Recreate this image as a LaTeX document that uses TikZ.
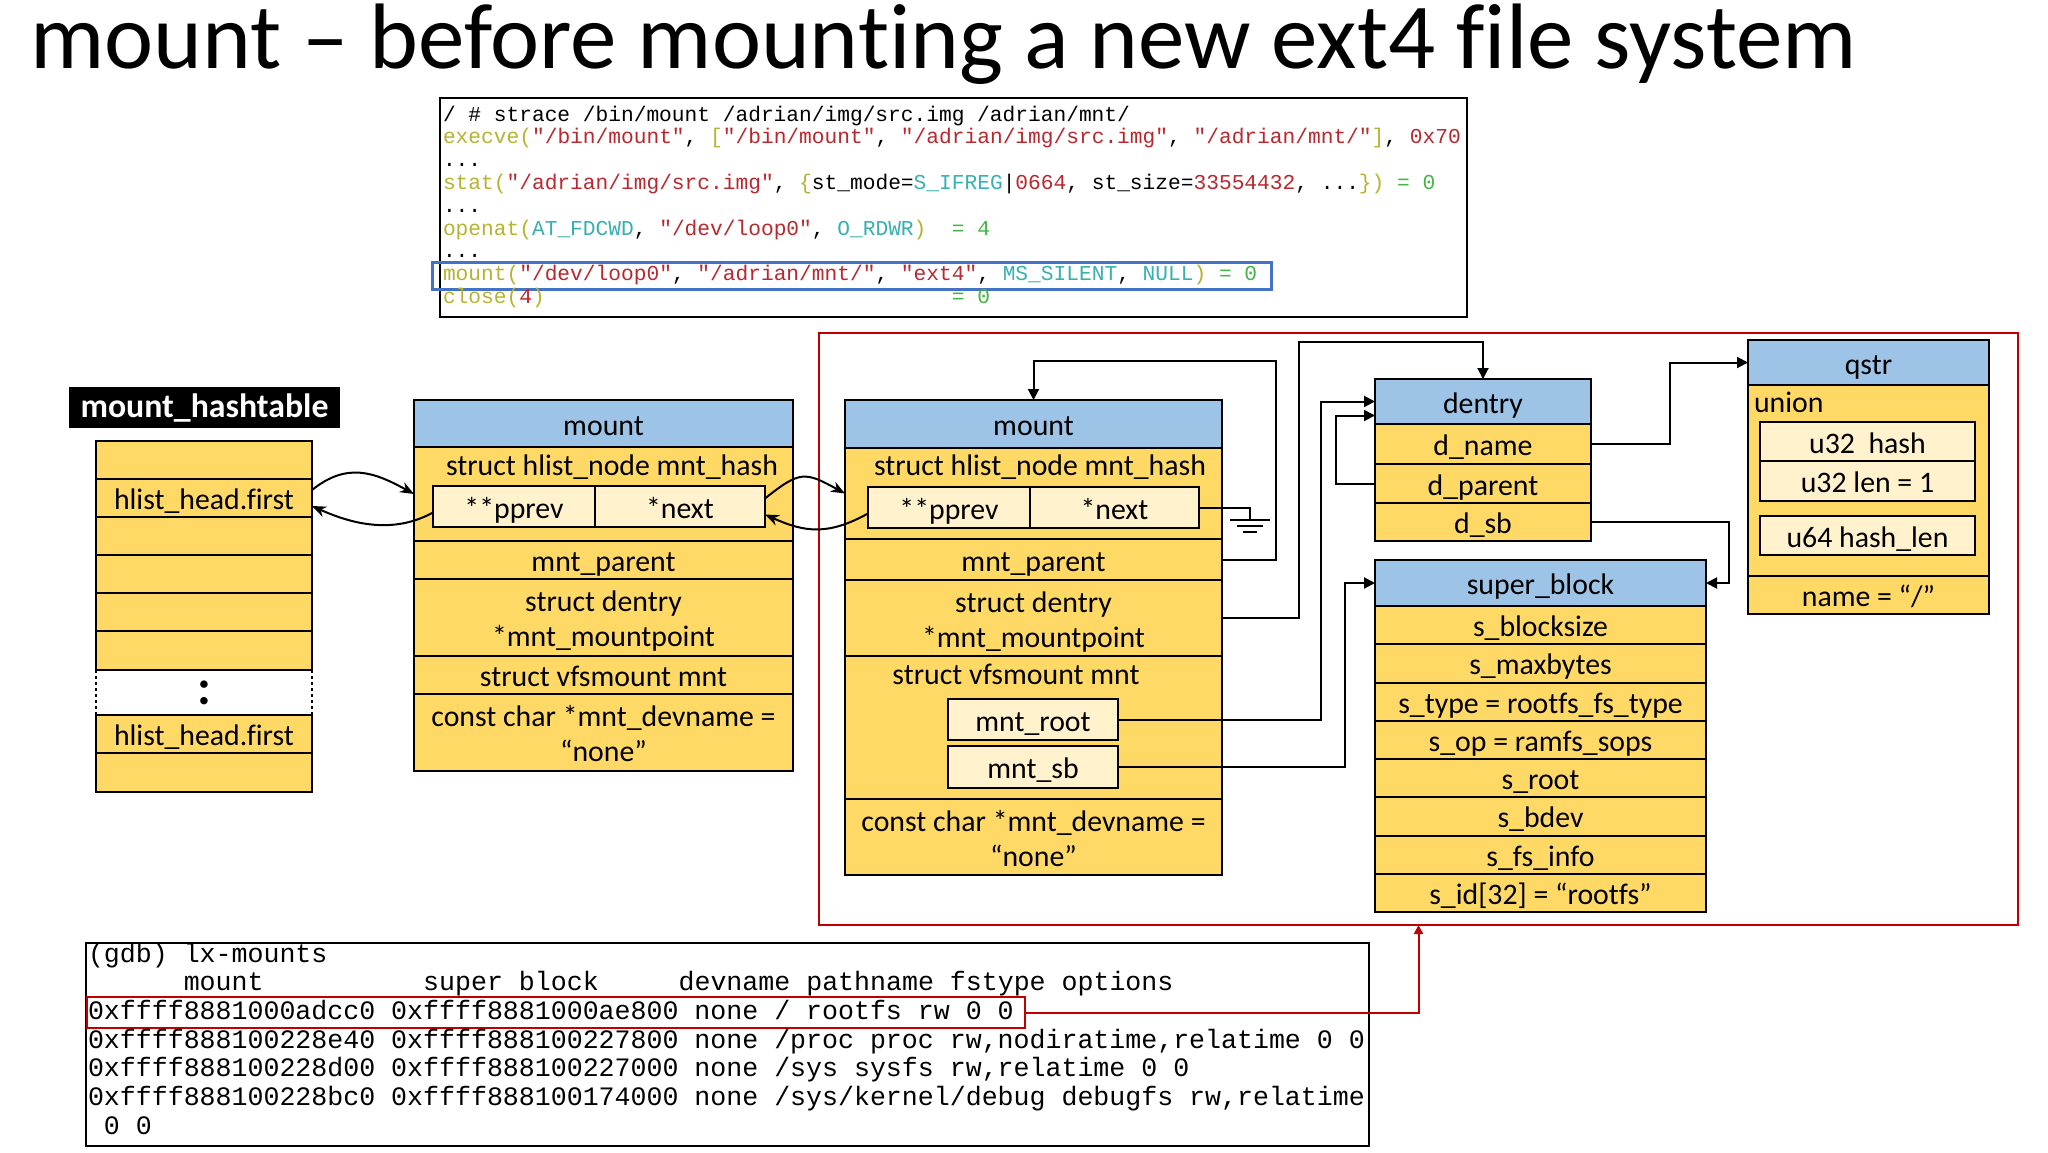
\documentclass[tikz,border=0pt]{standalone}
\usepackage{fontspec}
\setmainfont[Ligatures={TeX,NoCommon}]{Carlito}
\setmonofont{Liberation Mono}
\usepackage{xcolor}
\usetikzlibrary{arrows.meta,calc}
\definecolor{hdrblue}{HTML}{9DC3E6}
\definecolor{fieldgold}{HTML}{FFD966}
\definecolor{fieldpale}{HTML}{FFF2CC}
\definecolor{framered}{HTML}{C00000}
\definecolor{selblue}{HTML}{4472C4}
\definecolor{codefn}{HTML}{B4B430}
\definecolor{codestr}{HTML}{B8282E}
\definecolor{codeconst}{HTML}{38B0B0}
\definecolor{coderet}{HTML}{44B444}
\newcommand\cFn[1]{\textcolor{codefn}{#1}}
\newcommand\cStr[1]{\textcolor{codestr}{#1}}
\newcommand\cConst[1]{\textcolor{codeconst}{#1}}
\newcommand\cRet[1]{\textcolor{coderet}{#1}}

\begin{document}
\begin{tikzpicture}[x=1pt, y=-1pt, line width=2pt,
  every node/.style={font=\fontsize{29.8}{35}\selectfont, inner sep=0pt, outer sep=0pt},
  wh/.style 2 args={minimum width=#1pt, minimum height=#2pt},
  lbl/.style={text height=26pt, text depth=3pt},
  blk/.style={draw, anchor=north west},
  fieldcell/.style={blk, lbl},
  hdr/.style={fieldcell, fill=hdrblue},
  fld/.style={fieldcell, fill=fieldgold},
  fldtwo/.style={blk, fill=fieldgold, align=center, text height=61pt, text depth=3pt},
  pale/.style={fieldcell, fill=fieldpale},
  ptr/.style={-{Triangle[length=11pt, width=11pt]}},
  curvy/.style={-{Stealth[length=14pt, width=11pt]}},
  codeline/.style={anchor=base west, font=\ttfamily\fontsize{21.2}{23}\selectfont},
  gdbline/.style={anchor=base west, font=\ttfamily\fontsize{26.6}{29}\selectfont}]

\fill[white] (0,0) rectangle (2048,1152);
\useasboundingbox (0,0) rectangle (2048,1152);

% title
\node[anchor=base west, font=\fontsize{93}{100}\selectfont] (title) at (30,68)
  {mount – before mounting a new ext4 file system};

% strace output
\node[blk, wh={1027}{219}] (strace) at (440,98) {};
\node[blk, draw=selblue, line width=3pt, wh={839}{27}] (straceSel) at (432,262) {};
\def\sy{121}\def\sdy{22.8}
\node[codeline] (s0) at (443,\sy) {/ \# strace /bin/mount /adrian/img/src.img /adrian/mnt/};
\node[codeline] (s1) at (443,\sy+\sdy) {\cFn{execve(}\cStr{"/bin/mount"}, \cFn{[}\cStr{"/bin/mount"}, \cStr{"/adrian/img/src.img"}, \cStr{"/adrian/mnt/"}\cFn{]}, \cStr{0x70}};
\node[codeline] (s2) at (443,\sy+2*\sdy) {...};
\node[codeline] (s3) at (443,\sy+3*\sdy) {\cFn{stat(}\cStr{"/adrian/img/src.img"}, \cFn{\{}st\_mode=\cConst{S\_IFREG}|\cStr{0664}, st\_size=\cStr{33554432}, ...\cFn{\})} \cRet{= 0}};
\node[codeline] (s4) at (443,\sy+4*\sdy) {...};
\node[codeline] (s5) at (443,\sy+5*\sdy) {\cFn{openat(}\cConst{AT\_FDCWD}, \cStr{"/dev/loop0"}, \cConst{O\_RDWR}\cFn{)}\hspace*{1.2em}\cRet{= 4}};
\node[codeline] (s6) at (443,\sy+6*\sdy) {...};
\node[codeline] (s7) at (443,\sy+7*\sdy) {\cFn{mount(}\cStr{"/dev/loop0"}, \cStr{"/adrian/mnt/"}, \cStr{"ext4"}, \cConst{MS\_SILENT}, \cConst{NULL}\cFn{)} \cRet{= 0}};
\node[codeline] (s8) at (443,\sy+8*\sdy) {\cFn{close(}\cStr{4}\cFn{)}\hspace*{19.2em}\cRet{= 0}};

% everything set up by this mount
\node[blk, draw=framered, line width=2.5pt, wh={1199}{592}] (redFrame) at (819,333) {};

% mount_hashtable
\node[blk, draw=none, fill=black, text=white, wh={271}{41},
  font=\bfseries\fontsize{33.8}{40}\selectfont] (htLabel) at (69,387) {mount\_hashtable};
\foreach \i/\yt/\rh/\lab in {0/441/38/{}, 1/479/38/{hlist\_head.first}, 2/517/38/{},
                             3/555/38/{}, 4/593/38/{}, 5/631/39/{},
                             7/715/38/{hlist\_head.first}, 8/753/39/{}}
  \node[fld, wh={216}{\rh}] (ht\i) at (96,\yt) {\lab};
\node[anchor=north west, wh={216}{45}, font=\bfseries\fontsize{50}{50}\selectfont] (ht6) at (96,670) {:};
\draw[dashed, line width=1.5pt] (ht6.north west) -- (ht6.south west);
\draw[dashed, line width=1.5pt] (ht6.north east) -- (ht6.south east);

% first mount
\node[hdr, wh={379}{47}] (m1) at (414,400) {mount};
\node[blk, fill=fieldgold, wh={379}{94}] (m1Hash) at (414,447) {};
\node[lbl] (m1HashLbl) at (612,464) {struct hlist\_node mnt\_hash};
\node[pale, wh={162}{41}] (m1Pprev) at (433,486) {**pprev};
\node[pale, wh={170}{41}] (m1Next) at (595,486) {*next};
\node[fld, wh={379}{38}] (m1Parent) at (414,541) {mnt\_parent};
\node[fldtwo, wh={379}{77}] (m1Mntpt) at (414,579) {struct dentry\\*mnt\_mountpoint};
\node[fld, wh={379}{38}] (m1Vfs) at (414,656) {struct vfsmount mnt};
\node[fldtwo, wh={379}{77}] (m1Dev) at (414,694) {const char *mnt\_devname =\\“none”};

% second mount
\node[hdr, wh={377}{48}] (m2) at (845,400) {mount};
\node[blk, fill=fieldgold, wh={377}{91}] (m2Hash) at (845,448) {};
\node[lbl] (m2HashLbl) at (1040,464) {struct hlist\_node mnt\_hash};
\node[pale, wh={162}{41}] (m2Pprev) at (868,487) {**pprev};
\node[pale, wh={169}{41}] (m2Next) at (1030,487) {*next};
\node[fld, wh={377}{41}] (m2Parent) at (845,539) {mnt\_parent};
\node[fldtwo, wh={377}{76}] (m2Mntpt) at (845,580) {struct dentry\\*mnt\_mountpoint};
\node[blk, fill=fieldgold, wh={377}{143}] (m2Vfs) at (845,656) {};
\node[lbl] (m2VfsLbl) at (1016,673) {struct vfsmount mnt};
\node[pale, wh={170}{41}] (m2Root) at (948,699) {mnt\_root};
\node[pale, wh={170}{42}] (m2Sb) at (948,746) {mnt\_sb};
\node[fldtwo, wh={377}{76}] (m2Dev) at (845,799) {const char *mnt\_devname =\\“none”};

% dentry
\node[hdr, wh={216}{45}] (de) at (1375,379) {dentry};
\node[fld, wh={216}{40}] (deName) at (1375,424) {d\_name};
\node[fld, wh={216}{39}] (deParent) at (1375,464) {d\_parent};
\node[fld, wh={216}{38}] (deSb) at (1375,503) {d\_sb};

% super_block
\node[hdr, wh={331}{46}] (sb) at (1375,560) {super\_block};
\foreach \i/\lab in {1/s\_blocksize, 2/s\_maxbytes, 3/{s\_type = rootfs\_fs\_type},
                     4/{s\_op = ramfs\_sops}, 5/s\_root, 6/s\_bdev, 7/s\_fs\_info,
                     8/{s\_id[32] = “rootfs”}}
  \node[fld, wh={331}{38.25}] (sb\i) at (1375,{606+(\i-1)*38.25}) {\lab};

% qstr
\node[hdr, wh={241}{45}] (qs) at (1748,340) {qstr};
\node[blk, fill=fieldgold, wh={241}{191}] (qsUnion) at (1748,385) {};
\node[lbl, anchor=west] (qsUnionLbl) at (1754,401) {union};
\node[pale, wh={215}{39}] (qsHash) at (1760,422) {u32~ hash};
\node[pale, wh={215}{40}] (qsLen) at (1760,461) {u32 len = 1};
\node[pale, wh={215}{39}] (qsHashLen) at (1760,516) {u64 hash\_len};
\node[fld, wh={241}{38}] (qsName) at (1748,576) {name = “/”};

% hash chain links
\draw[curvy] ($(ht1.east)+(0,-8)$) .. controls +(35,-28) and +(-40,-22) .. (m1Hash.west);
\draw[curvy] ($(m1Pprev.west)+(0,6)$) .. controls +(-40,22) and +(40,18) .. ($(ht1.east)+(0,8)$);
\draw[curvy] ($(m1Next.east)+(0,-8)$) .. controls +(35,-28) and +(-40,-22) .. (m2Hash.west);
\draw[curvy] ($(m2Pprev.west)+(0,6)$) .. controls +(-40,22) and +(40,18) .. ($(m1Next.east)+(0,8)$);

% end of chain
\draw (m2Next.east) -- ++(51,0) -- ++(0,12) coordinate (gnd);
\draw ($(gnd)+(-20,0)$) -- ($(gnd)+(20,0)$);
\draw ($(gnd)+(-13,6)$) -- ($(gnd)+(13,6)$);
\draw ($(gnd)+(-7,12)$) -- ($(gnd)+(7,12)$);

% pointers
\draw[ptr] (m2Parent.east) -- ++(54,0) |- ($(m2.north)+(0,-39)$) -- (m2.north);
\draw[ptr] (m2Mntpt.east) -- ++(77,0) |- ($(de.north)+(0,-37)$) -- (de.north);
\draw[ptr] (m2Root.east) -- ($(m2Root.east -| de.west)+(-54,0)$) |- (de.west);
\draw[ptr] (deParent.west) -- ++(-39,0) |- ($(de.west)+(0,14)$);
\draw[ptr] (m2Sb.east) -- ($(m2Sb.east -| sb.west)+(-30,0)$) |- (sb.west);
\draw[ptr] (deSb.east) -- ++(138,0) |- (sb.east);
\draw[ptr] (deName.east) -- ++(79,0) |- (qs.west);

% gdb listing
\node[blk, wh={1283}{203}] (gdb) at (86,943) {};
\node[blk, draw=framered, line width=2pt, wh={938}{31}] (gdbSel) at (87,997) {};
\def\gy{962}\def\gdy{28.67}
\node[gdbline] (g0) at (88,\gy) {(gdb) lx-mounts};
\node[gdbline] (g1) at (88,\gy+\gdy) {~~~~~~mount~~~~~~~~~~super block~~~~~devname pathname fstype options};
\node[gdbline] (g2) at (88,\gy+2*\gdy) {0xffff8881000adcc0 0xffff8881000ae800 none / rootfs rw 0 0};
\node[gdbline] (g3) at (88,\gy+3*\gdy) {0xffff888100228e40 0xffff888100227800 none /proc proc rw,nodiratime,relatime 0 0};
\node[gdbline] (g4) at (88,\gy+4*\gdy) {0xffff888100228d00 0xffff888100227000 none /sys sysfs rw,relatime 0 0};
\node[gdbline] (g5) at (88,\gy+5*\gdy) {0xffff888100228bc0 0xffff888100174000 none /sys/kernel/debug debugfs rw,relatime};
\node[gdbline] (g6) at (88,\gy+6*\gdy) {~0 0};
\draw[framered, -{Triangle[length=9pt, width=9pt]}] (gdbSel.east) -| (redFrame.south);

\end{tikzpicture}
\end{document}
